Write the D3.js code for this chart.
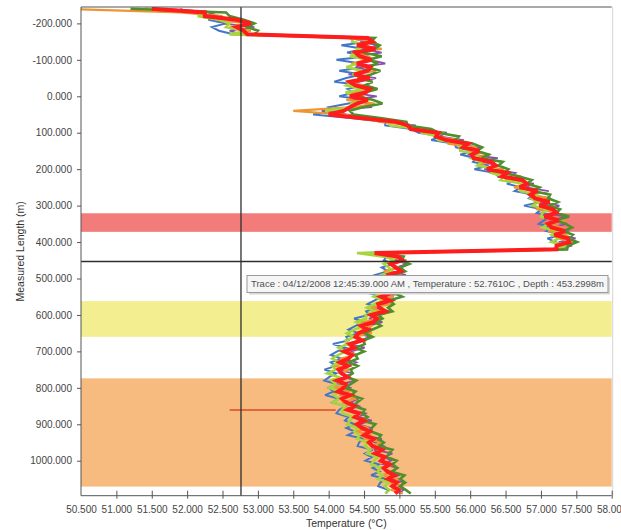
<!DOCTYPE html>
<html>
<head>
<meta charset="utf-8">
<script src="https://cdn.jsdelivr.net/npm/d3@7"></script>
<style>
  body { margin: 0; background: #fff; }
  svg { display: block; }
  text { font-family: "Liberation Sans", Arial, sans-serif; }
</style>
</head>
<body>
<svg id="chart" width="621" height="530"></svg>
<script>
// Measured length (m) of every sample along the fibre
const depths = [-240,-230,-220,-210,-200,-190,-180,-170,-160,-150,-140,-130,-120,-110,-100,-90,-80,-70,-60,-50,-40,-30,-20,-10,0,10,20,30,40,50,60,70,80,90,100,110,120,130,140,150,160,170,180,190,200,210,220,230,240,250,260,270,280,290,300,310,320,330,340,350,360,370,380,390,400,410,420,430,440,450,460,470,480,490,500,510,520,530,540,550,560,570,580,590,600,610,620,630,640,650,660,670,680,690,700,710,720,730,740,750,760,770,780,790,800,810,820,830,840,850,860,870,880,890,900,910,920,930,940,950,960,970,980,990,1000,1010,1020,1030,1040,1050,1060,1070,1080,1090];

// Temperature (°C) of each trace at those depths
const tempBlue = [51.90,
  52.05,52.45,52.30,52.55,52.35,52.45,52.65,
  54.28,54.58,54.18,54.51,54.26,54.56,54.11,54.45,54.50,54.15,54.46,54.25,54.08,54.47,54.27,54.37,54.15,54.53,54.28,54.00,54.08,53.78,
  54.35,54.80,54.80,55.17,55.27,55.60,55.45,55.78,55.80,56.04,55.86,56.08,56.04,56.26,56.06,56.34,56.40,56.66,56.52,56.72,56.63,56.89,56.83,57.00,56.76,57.01,56.94,57.17,57.05,56.97,57.17,57.08,57.31,57.09,57.21,57.30,57.15,
  54.45,
  54.82,54.78,54.91,54.75,54.84,54.66,54.78,54.87,54.68,54.76,54.56,54.76,54.65,54.55,54.70,54.53,54.57,54.36,54.50,54.38,54.28,54.42,54.25,54.28,54.06,54.24,54.12,54.03,54.19,54.03,54.10,53.94,54.11,54.01,53.94,54.12,54.00,54.07,53.95,54.15,54.05,54.24,54.15,54.11,54.28,54.23,54.38,54.25,54.37,54.27,54.49,54.43,54.41,54.62,54.51,54.61,54.52,54.71,54.62,54.72,54.60,54.81,54.73,54.70,54.84,54.81];

const tempPurple = [51.70,
  52.40,52.20,52.65,52.50,52.95,52.60,52.75,
  54.57,54.45,54.70,54.50,54.75,54.35,54.58,54.80,54.38,54.60,54.28,54.67,54.44,54.27,54.63,54.32,54.68,54.31,54.58,54.60,53.90,54.25,
  54.70,54.77,55.23,55.13,55.67,55.56,55.91,55.73,56.15,56.04,55.98,56.39,56.14,56.42,56.20,56.64,56.58,56.51,56.90,56.78,57.11,56.83,57.14,56.96,57.26,57.14,57.00,57.37,57.13,57.37,57.14,57.38,57.29,57.49,57.25,57.44,57.25,
  54.55,
  55.02,54.93,55.11,54.95,54.84,55.09,54.95,54.83,55.02,54.86,55.04,54.78,54.92,54.80,54.65,54.87,54.73,54.57,54.76,54.56,54.60,54.40,54.59,54.44,54.30,54.51,54.32,54.39,54.21,54.39,54.27,54.13,54.34,54.21,54.39,54.16,54.31,54.27,54.16,54.42,54.31,54.43,54.28,54.52,54.42,54.61,54.42,54.59,54.58,54.49,54.75,54.65,54.78,54.64,54.90,54.79,54.88,54.77,54.97,54.90,54.99,54.85,55.08,54.99,55.06,54.99];

const tempOrange = [50.30,
  51.90,52.50,52.40,52.85,52.60,52.90,52.70,
  54.30,54.63,54.45,54.75,54.32,54.56,54.63,54.32,54.54,54.67,54.38,54.57,54.26,54.50,54.69,54.28,54.50,54.25,54.65,54.35,53.50,54.20,
  54.60,54.70,55.17,55.21,55.63,55.48,55.83,55.68,56.09,55.96,56.28,56.04,56.25,56.12,56.46,56.39,56.72,56.49,56.78,56.62,56.97,56.85,57.13,56.90,57.10,56.93,57.24,57.09,57.35,57.09,57.30,57.10,57.37,57.25,57.46,57.24,57.30,
  54.50,
  54.87,55.10,54.86,54.99,54.78,55.00,54.86,55.03,54.78,54.91,54.72,54.92,54.74,54.90,54.59,54.75,54.59,54.74,54.46,54.61,54.46,54.61,54.34,54.46,54.23,54.42,54.24,54.40,54.16,54.28,54.08,54.29,54.16,54.31,54.09,54.25,54.08,54.30,54.17,54.39,54.19,54.35,54.20,54.47,54.36,54.55,54.36,54.56,54.40,54.59,54.51,54.75,54.60,54.78,54.60,54.81,54.73,54.92,54.73,54.90,54.76,54.99,54.87,55.05,54.88,55.05];

const tempLime = [51.40,
  52.30,52.15,52.45,52.60,52.55,52.85,52.60,
  54.35,54.33,54.55,54.40,54.48,54.30,54.56,54.40,54.25,54.47,54.34,54.55,54.34,54.25,54.49,54.24,54.38,54.57,54.32,54.34,53.95,54.15,
  54.43,54.83,54.87,55.29,55.31,55.54,55.55,55.90,55.85,55.86,56.13,56.02,56.16,56.10,56.36,56.30,56.48,56.43,56.76,56.70,56.71,56.96,56.86,56.97,56.88,57.11,57.02,57.00,57.21,57.11,57.02,57.26,57.15,57.25,57.15,57.37,57.17,
  54.40,
  54.78,54.94,54.78,54.85,54.90,54.75,54.80,54.69,54.83,54.72,54.76,54.64,54.77,54.65,54.54,54.65,54.52,54.53,54.39,54.50,54.37,54.26,54.37,54.24,54.26,54.14,54.24,54.13,54.05,54.15,54.05,54.10,53.98,54.13,54.04,54.10,54.01,54.17,54.07,54.15,54.06,54.23,54.19,54.19,54.35,54.30,54.26,54.41,54.36,54.44,54.40,54.56,54.51,54.59,54.54,54.70,54.64,54.60,54.74,54.69,54.76,54.70,54.85,54.79,54.86,54.80];

const tempGreen = [51.20,
  52.55,52.60,52.80,52.95,52.85,53.00,52.95,
  54.65,54.60,54.72,54.65,54.48,54.75,54.56,54.70,54.52,54.73,54.60,54.41,54.62,54.51,54.69,54.50,54.42,54.63,54.76,54.48,54.30,54.35,
  54.73,55.10,55.11,55.45,55.55,55.84,55.79,56.04,56.17,56.10,56.26,56.16,56.46,56.40,56.54,56.49,56.69,56.87,56.80,56.98,56.89,57.13,57.10,57.24,57.12,57.27,57.22,57.40,57.21,57.35,57.44,57.32,57.45,57.39,57.51,57.38,57.37,
  54.70,
  55.06,55.03,55.14,55.01,55.08,54.93,55.10,54.99,54.92,55.03,54.93,55.04,54.86,54.92,54.84,54.90,54.70,54.76,54.66,54.74,54.62,54.51,54.62,54.49,54.51,54.38,54.50,54.38,54.41,54.28,54.41,54.31,54.34,54.26,54.39,54.31,54.23,54.38,54.32,54.47,54.40,54.36,54.51,54.47,54.55,54.47,54.66,54.61,54.60,54.74,54.70,54.78,54.71,54.90,54.85,54.82,54.96,54.90,54.97,54.89,55.07,55.01,55.08,55.01,55.09,55.16];

const tempRed = [51.50,
  52.25,52.25,52.70,52.90,52.70,52.80,52.85,
  54.55,54.62,54.40,54.66,54.38,54.44,54.60,54.40,54.59,54.55,54.36,54.58,54.30,54.38,54.58,54.52,54.30,54.55,54.40,54.30,54.21,54.00,
  54.47,54.95,55.12,55.16,55.55,55.52,55.66,55.97,55.90,56.13,56.02,56.05,56.30,56.36,56.24,56.52,56.45,56.74,56.80,56.70,56.95,56.85,56.92,57.12,56.98,57.17,57.22,57.05,57.25,57.10,57.15,57.34,57.19,57.38,57.40,57.22,57.22,
  54.65,
  54.98,55.04,54.88,54.95,55.02,54.84,54.86,54.97,54.80,54.93,54.88,54.74,54.86,54.70,54.72,54.80,54.60,54.68,54.63,54.46,54.55,54.42,54.38,54.47,54.30,54.36,54.22,54.33,54.28,54.16,54.27,54.14,54.18,54.26,54.12,54.24,54.21,54.13,54.30,54.19,54.25,54.36,54.27,54.42,54.37,54.50,54.40,54.47,54.58,54.50,54.64,54.57,54.62,54.75,54.66,54.79,54.74,54.86,54.78,54.83,54.93,54.84,54.96,54.90,54.99,54.94];

// Short hot-spot reading inside the lowest zone
const anomalyDepth = 861;
const anomalyTemps = [52.60, 54.10];

// Shaded depth zones (m)
const zoneTops = [321, 562, 774];
const zoneBottoms = [372, 660, 1071];

// Axis ticks
const tempTicks = [50.5, 51.0, 51.5, 52.0, 52.5, 53.0, 53.5, 54.0, 54.5, 55.0, 55.5, 56.0, 56.5, 57.0, 57.5, 58.0];
const depthTicks = [-200, -100, 0, 100, 200, 300, 400, 500, 600, 700, 800, 900, 1000];

// Cursor read-out
const cursorTrace = "04/12/2008 12:45:39.000 AM";
const cursorTemp = 52.7610;
const cursorDepth = 453.2998;

// ---- styling ----
const zoneColors = ["#f27c7a", "#f3ee8f", "#f8bb7f"];
const traceStyles = [
  { values: tempBlue,   color: "#4277c8", width: 2.0 },
  { values: tempPurple, color: "#8b50ae", width: 1.8 },
  { values: tempOrange, color: "#ee9432", width: 2.2 },
  { values: tempLime,   color: "#a8d43e", width: 2.6 },
  { values: tempGreen,  color: "#4f902c", width: 2.6 },
  { values: tempRed,    color: "#ff1c1c", width: 4.0 }
];

const plotLeft = 81, plotRight = 611.7, plotTop = 7, plotBottom = 495.7;
const svg = d3.select("#chart");

const x = d3.scaleLinear().domain([50.5, 58.0]).range([plotLeft, plotRight]);
const y = d3.scaleLinear().domain([-245, 1096]).range([plotTop, plotBottom]);

svg.append("rect").attr("width", 621).attr("height", 530).attr("fill", "#fff");

svg.append("defs").append("clipPath").attr("id", "plotClip")
  .append("rect").attr("x", plotLeft).attr("y", plotTop)
  .attr("width", plotRight - plotLeft).attr("height", plotBottom - plotTop);

// zones
svg.append("g").selectAll("rect")
  .data(zoneTops.map((t, i) => ({ t, b: zoneBottoms[i], c: zoneColors[i] })))
  .join("rect")
  .attr("x", plotLeft).attr("width", plotRight - plotLeft)
  .attr("y", d => y(d.t)).attr("height", d => y(d.b) - y(d.t))
  .attr("fill", d => d.c);

const plot = svg.append("g").attr("clip-path", "url(#plotClip)");

// hot-spot line
plot.append("line")
  .attr("x1", x(anomalyTemps[0])).attr("x2", x(anomalyTemps[1]))
  .attr("y1", y(anomalyDepth)).attr("y2", y(anomalyDepth))
  .attr("stroke", "#e2683a").attr("stroke-width", 2);

// temperature traces
const line = d3.line().x(d => x(d[1])).y(d => y(d[0]));
plot.selectAll("path.trace")
  .data(traceStyles)
  .join("path")
  .attr("class", "trace")
  .attr("d", s => line(depths.map((dd, i) => [dd, s.values[i]]).filter(p => p[1] != null)))
  .attr("fill", "none")
  .attr("stroke", s => s.color)
  .attr("stroke-width", s => s.width)
  .attr("stroke-linejoin", "miter")
  .attr("stroke-miterlimit", 3);

// cursor cross-hair
svg.append("line")
  .attr("x1", x(cursorTemp)).attr("x2", x(cursorTemp))
  .attr("y1", plotTop).attr("y2", plotBottom)
  .attr("stroke", "#2e2e2e").attr("stroke-width", 1.3);
svg.append("line")
  .attr("x1", plotLeft).attr("x2", plotRight)
  .attr("y1", y(cursorDepth)).attr("y2", y(cursorDepth))
  .attr("stroke", "#2e2e2e").attr("stroke-width", 1.3);

// frame
svg.append("line").attr("x1", plotLeft).attr("x2", plotRight).attr("y1", plotTop).attr("y2", plotTop)
  .attr("stroke", "#555").attr("stroke-width", 1.2);
svg.append("line").attr("x1", plotRight + 1).attr("x2", plotRight + 1).attr("y1", plotTop).attr("y2", plotBottom)
  .attr("stroke", "#d4d4d4").attr("stroke-width", 1);

// y axis
const yAxis = svg.append("g").attr("transform", `translate(${plotLeft},0)`)
  .call(d3.axisLeft(y).tickValues(depthTicks).tickSize(4).tickPadding(5).tickFormat(d => d.toFixed(3)));
yAxis.select(".domain").attr("stroke", "#555").attr("d", `M0,${plotTop}V${plotBottom}`);
yAxis.selectAll(".tick line").attr("stroke", "#555");
yAxis.selectAll(".tick text").attr("fill", "#444").style("font-size", "10px");

// x axis
const xAxis = svg.append("g").attr("transform", `translate(0,${plotBottom})`)
  .call(d3.axisBottom(x).tickValues(tempTicks).tickSize(4).tickFormat(d => d.toFixed(3)));
xAxis.select(".domain").attr("stroke", "#555").attr("d", `M${plotLeft},0H${plotRight}`);
xAxis.selectAll(".tick line").attr("stroke", "#555").attr("y1", -5).attr("y2", 3)
  .attr("display", d => d === 50.5 ? "none" : null);
xAxis.selectAll(".tick text").attr("fill", "#444").style("font-size", "10px")
  .attr("y", 10).attr("dy", "0.71em");

// axis titles
svg.append("text")
  .attr("transform", `translate(20,${(plotTop + plotBottom) / 2}) rotate(-90)`)
  .attr("text-anchor", "middle").attr("dy", "0.35em")
  .attr("fill", "#333").style("font-size", "10.5px")
  .text("Measured Length (m)");
svg.append("text")
  .attr("x", (plotLeft + plotRight) / 2).attr("y", 527)
  .attr("text-anchor", "middle")
  .attr("fill", "#333").style("font-size", "10.5px")
  .text("Temperature (°C)");

// cursor tooltip
const tipX = x(cursorTemp) + 6, tipY = y(cursorDepth) + 14;
const tipW = 361, tipH = 17;
const tip = svg.append("g");
tip.append("rect").attr("x", tipX + 2).attr("y", tipY + 2).attr("width", tipW).attr("height", tipH)
  .attr("fill", "#d6d6d6");
tip.append("rect").attr("x", tipX).attr("y", tipY).attr("width", tipW).attr("height", tipH)
  .attr("fill", "#f6f6f6").attr("stroke", "#9a9a9a").attr("stroke-width", 1);
tip.append("text")
  .attr("x", tipX + 4).attr("y", tipY + 12)
  .attr("fill", "#505050").style("font-size", "9px")
  .attr("textLength", tipW - 8).attr("lengthAdjust", "spacingAndGlyphs")
  .text(`Trace : ${cursorTrace} , Temperature : ${cursorTemp.toFixed(4)}C , Depth : ${cursorDepth.toFixed(4)}m`);
</script>
</body>
</html>
